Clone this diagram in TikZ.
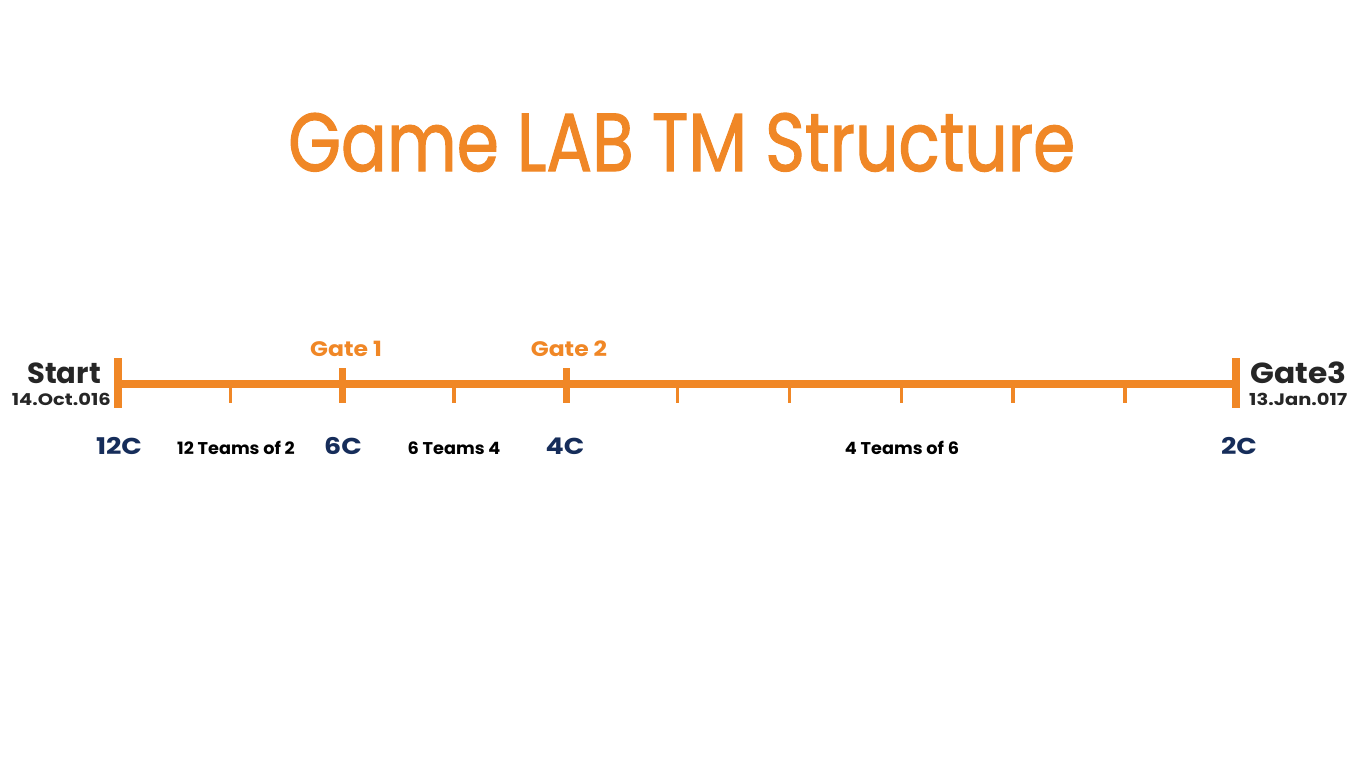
\documentclass[tikz,border=0pt]{standalone}
\usepackage{fontspec}
\usepackage{graphicx}
\newfontfamily\poptitle[FakeBold=1.6]{Poppins}
\newfontfamily\popstart{Poppins}
\newfontfamily\popend[FakeStretch=1.08]{Poppins}
\newfontfamily\popdate[FakeStretch=1.18]{Poppins}
\newfontfamily\popgate[FakeStretch=1.12]{Poppins}
\newfontfamily\popc[FakeStretch=1.17]{Poppins}
\newfontfamily\popteam[FakeStretch=1.04]{Poppins}
\definecolor{tlorange}{RGB}{240,135,38}
\definecolor{tlnavy}{RGB}{22,45,90}
\definecolor{tldark}{RGB}{38,38,38}
\tikzset{
  mainline/.style={draw=tlorange,line width=8pt},
  endbar/.style={draw=tlorange,line width=8pt},
  gatebar/.style={draw=tlorange,line width=7pt},
  minortick/.style={draw=tlorange,line width=3.5pt},
  gatelbl/.style={font=\popgate\bfseries\fontsize{21}{24}\selectfont,text=tlorange,inner sep=0pt,anchor=base},
  endlbl/.style={font=\popend\bfseries\fontsize{29}{32}\selectfont,text=tldark,inner sep=0pt},
  startlbl/.style={font=\popstart\bfseries\fontsize{29}{32}\selectfont,text=tldark,inner sep=0pt},
  datelbl/.style={font=\popdate\bfseries\fontsize{16.5}{18}\selectfont,text=tldark,inner sep=0pt},
  clbl/.style={font=\popc\bfseries\fontsize{23}{26}\selectfont,text=tlnavy,inner sep=0pt,anchor=base},
  teamlbl/.style={font=\popteam\bfseries\fontsize{17}{20}\selectfont,text=black,inner sep=0pt,anchor=base},
}
\begin{document}
\begin{tikzpicture}[x=1pt,y=-1pt]
\useasboundingbox (0,0) rectangle (1366,768);
% title
\node[inner sep=0pt,anchor=base west,text=tlorange] (title) at (288,171)
  {\resizebox{787pt}{58pt}{\poptitle Game LAB TM Structure}};
% timeline coordinates
\coordinate (s) at (118,384);
\coordinate (e) at (1236,384);
\draw[mainline] (s) -- (e);
\draw[endbar] (118,358) coordinate (s1) -- (118,408) coordinate (s2);
\draw[endbar] (1236,358) coordinate (e1) -- (1236,408) coordinate (e2);
\draw[gatebar] (342,368) coordinate (g1a) -- (342,403) coordinate (g1b);
\draw[gatebar] (566,368) coordinate (g2a) -- (566,403) coordinate (g2b);
\foreach \x in {230.4,454.2,677.7,789.5,901.3,1013.1,1124.9}
  \draw[minortick] (\x,384) -- (\x,403);
% end labels
\node[startlbl,anchor=base east] (start) at (101,383) {Start};
\node[datelbl,anchor=base east] (sdate) at (111,405) {14.Oct.016};
\node[endlbl,anchor=base west] (gate3) at (1250,383) {Gate3};
\node[datelbl,anchor=base west] (edate) at (1249,405) {13.Jan.017};
% gate labels
\node[gatelbl] (gate1) at (346,356) {Gate 1};
\node[gatelbl] (gate2) at (569,356) {Gate 2};
% bottom labels
\node[clbl] (c12) at (119,454) {12C};
\node[clbl] (c6) at (343,454) {6C};
\node[clbl] (c4) at (565,454) {4C};
\node[clbl] (c2) at (1239,454) {2C};
\node[teamlbl] (t1) at (236,454) {12 Teams of 2};
\node[teamlbl] (t2) at (454,454) {6 Teams 4};
\node[teamlbl] (t3) at (902,454) {4 Teams of 6};
\end{tikzpicture}
\end{document}
